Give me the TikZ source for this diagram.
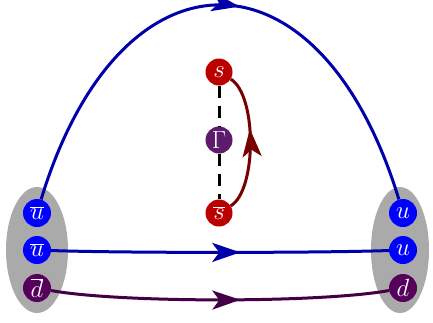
\documentclass[tikz,border=0pt]{standalone}
\usetikzlibrary{arrows.meta,decorations.markings}
\definecolor{qblue}{HTML}{0000FF}
\definecolor{lblue}{HTML}{0000AA}
\definecolor{qpurple}{HTML}{55005A}
\definecolor{lpurple}{HTML}{440044}
\definecolor{qred}{HTML}{BB0000}
\definecolor{lred}{HTML}{770000}
\definecolor{gpurple}{HTML}{5C1B6C}
\definecolor{hgray}{HTML}{AAAAAA}
\tikzset{
  quark/.style={circle, minimum size=28pt, inner sep=0pt, text=white,
    font=\fontsize{24.88}{25}\selectfont},
  hadron/.style={fill=hgray, draw=none},
  flow/.style={line width=3pt, postaction={decorate},
    decoration={markings, mark=at position #1 with {\arrow{Stealth[length=28pt,width=19pt,inset=7pt]}}}},
  flow/.default=0.55,
  gdash/.style={line width=3pt, dash pattern=on 12pt off 8pt, black}
}
\begin{document}
\begin{tikzpicture}[x=1pt,y=-1pt]
\useasboundingbox (0,0) rectangle (433,322);
% hadrons
\fill[hadron] (37,250) ellipse [x radius=31pt, y radius=63pt];
\fill[hadron] (400,250) ellipse [x radius=29pt, y radius=63pt];
% quarks
\node[quark, fill=qblue]   (ul1) at (37,213) {$\overline{u}$};
\node[quark, fill=qblue]   (ul2) at (37,250) {$\overline{u}$};
\node[quark, fill=qpurple] (dl)  at (37,288) {$\overline{d}$};
\node[quark, fill=qblue]   (ur1) at (403,213) {$u$};
\node[quark, fill=qblue]   (ur2) at (403,250) {$u$};
\node[quark, fill=qpurple] (dr)  at (403,288) {$d$};
\node[quark, fill=qred, minimum size=27pt] (s)  at (219,72)  {$s$};
\node[quark, fill=gpurple, minimum size=27pt] (g) at (219,140) {$\Gamma$};
\node[quark, fill=qred, minimum size=27pt] (sb) at (219,213) {$\overline{s}$};
% connectors
\draw[gdash] (s) -- (g);
\draw[gdash] (g) -- (sb);
\draw[flow=0.535, lblue] (ul1) .. controls (120,-60) and (320,-60) .. (ur1);
\draw[flow=0.56, lblue] (ul2) .. controls (120,253) and (320,253) .. (ur2);
\draw[flow=0.56, lpurple] (dl) .. controls (120,303) and (320,303) .. (dr);
\draw[flow=0.6, lred] (sb) .. controls (257,190) and (257,95) .. (s);
\end{tikzpicture}
\end{document}
